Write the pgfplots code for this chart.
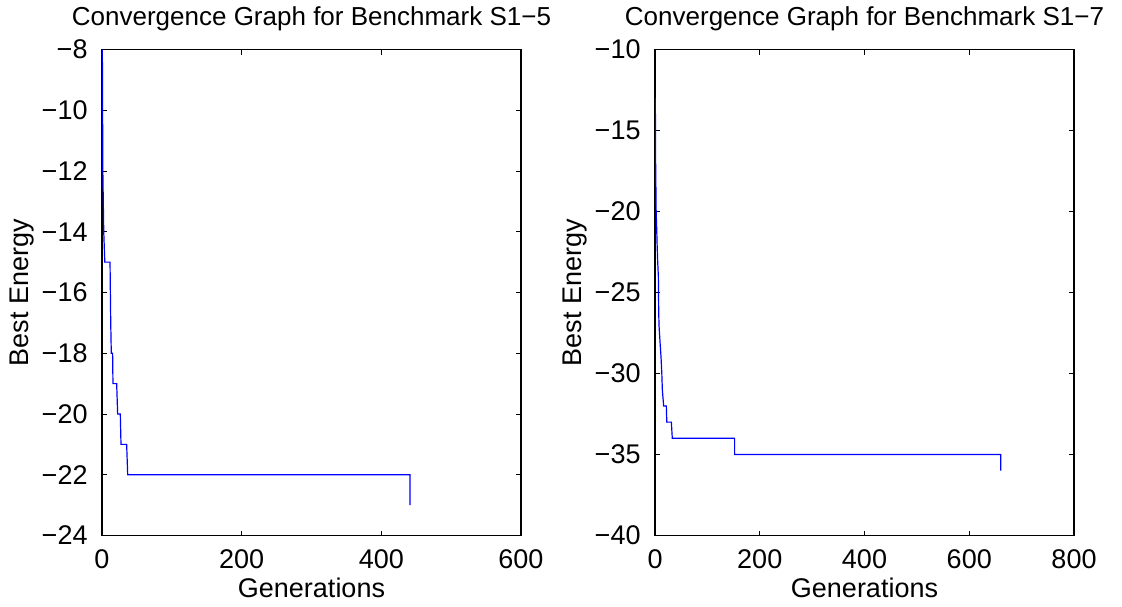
\documentclass[border=0pt]{standalone}
\usepackage{fontspec}
\setmainfont{Liberation Sans}
\usepackage{pgfplots}
\pgfplotsset{compat=1.18}

\pgfplotsset{conv/.style={
    scale only axis, width=209.5pt, height=243pt,
    anchor=south west,
    axis line style={line width=0.6pt},
    major tick length=2.5pt,
    tick style={black, line width=0.5pt},
    tick align=inside,
    every tick label/.append style={font=\fontsize{13.5}{16}\selectfont},
    xticklabel style={anchor=base, yshift=-16.3pt},
    xticklabel={\pgfmathprintnumber[assume math mode=true]{\tick}},
    yticklabel style={anchor=east, xshift=-3.7pt},
    every axis title/.style={at={(0.5,1)}, anchor=base, yshift=12pt,
        font=\fontsize{13}{16}\selectfont},
    every axis x label/.style={at={(axis description cs:0.5,0)}, anchor=base,
        yshift=-31pt, font=\fontsize{13.5}{16}\selectfont},
    every axis y label/.style={at={(axis description cs:-0.19,0.5)}, rotate=90,
        anchor=center, font=\fontsize{13.5}{16}\selectfont},
    xlabel=Generations, ylabel=Best Energy,
    scaled ticks=false,
}}

\begin{document}
\begin{tikzpicture}
\path (-51pt,-35.5pt) rectangle (510pt,267pt);

\begin{axis}[conv, at={(0pt,0pt)},
    title={Convergence Graph for Benchmark S1−5},
    xmin=0, xmax=600, ymin=-24, ymax=-8,
    xtick={0,200,400,600},
    ytick={-24,-22,-20,-18,-16,-14,-12,-10,-8},
    yticklabels={−24,−22,−20,−18,−16,−14,−12,−10,−8},
    ]
\addplot[blue, line width=0.6pt] coordinates {
  (0.5,-8) (1.2,-12) (2.5,-14) (4,-15) (11.5,-15) (12.5,-17) (13.3,-18) (15.2,-18)
  (15.7,-19) (21,-19) (22.4,-20) (26.2,-20) (27.2,-21) (35.3,-21) (36.8,-22)
  (441,-22) (441,-23)
};
\end{axis}

\begin{axis}[conv, at={(276.5pt,0pt)},
    title={Convergence Graph for Benchmark S1−7},
    xmin=0, xmax=800, ymin=-40, ymax=-10,
    xtick={0,200,400,600,800},
    ytick={-40,-35,-30,-25,-20,-15,-10},
    yticklabels={−40,−35,−30,−25,−20,−15,−10},
    ]
\addplot[blue, line width=0.6pt] coordinates {
  (0.6,-13) (1.2,-17) (2.2,-20) (3.2,-21) (4,-22) (5,-23) (6.4,-24) (7,-26) (7.6,-27)
  (9.5,-28) (11.5,-29) (13,-30) (14,-31) (16.5,-32) (21.6,-32) (22.5,-33)
  (31.2,-33) (33,-34) (152,-34) (152,-35) (660,-35) (660,-36)
};
\end{axis}
\end{tikzpicture}
\end{document}
